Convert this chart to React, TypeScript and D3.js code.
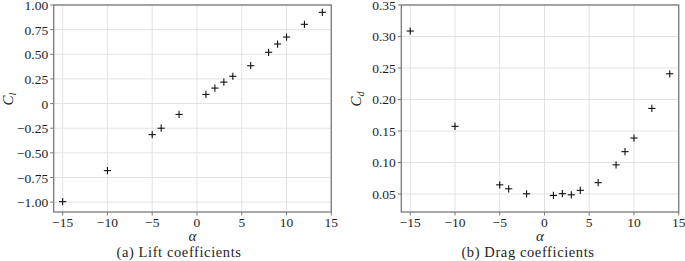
import React from "react";
import * as d3 from "d3";

const alpha = [-15, -10, -5, -4, -2, 1, 2, 3, 4, 6, 8, 9, 10, 12, 14];
const liftValues = [-0.995, -0.68, -0.315, -0.25, -0.11, 0.093, 0.157, 0.218, 0.277, 0.384, 0.52, 0.604, 0.675, 0.804, 0.926];
const dragValues = [0.3087, 0.1574, 0.0645, 0.0582, 0.0503, 0.0477, 0.0505, 0.0487, 0.0558, 0.068, 0.0962, 0.1172, 0.1388, 0.1858, 0.2408];
const xTicks = [-15, -10, -5, 0, 5, 10, 15];
const liftTicks = [-1.0, -0.75, -0.5, -0.25, 0, 0.25, 0.5, 0.75, 1.0];
const dragTicks = [0.05, 0.1, 0.15, 0.2, 0.25, 0.3, 0.35];
const liftTickLabels = ["\u22121.00", "\u22120.75", "\u22120.50", "\u22120.25", "0", "0.25", "0.50", "0.75", "1.00"];
const dragTickLabels = ["0.05", "0.10", "0.15", "0.20", "0.25", "0.30", "0.35"];

const FONT = "'Liberation Serif', 'Times New Roman', serif";
const TEXT = "#1e1e1e";
const FRAME = "#7a7a7a";
const GRID = "#e2e2e2";

type PanelProps = {
  left: number;
  right: number;
  top: number;
  bottom: number;
  values: number[];
  yDomain: [number, number];
  yTicks: number[];
  yTickLabels: string[];
  sub: string;
  caption: string;
  captionX: number;
  yLabelY: number;
  yLabelX: number;
};

function Panel(p: PanelProps) {
  const x = d3.scaleLinear().domain([-16, 15]).range([p.left, p.right]);
  const y = d3.scaleLinear().domain(p.yDomain).range([p.bottom, p.top]);
  const cx = (p.left + p.right) / 2;
  const m = 3.6;
  return (
    <g>
      {xTicks.map((t) => (
        <line key={"gx" + t} x1={x(t)} x2={x(t)} y1={p.top} y2={p.bottom} stroke={GRID} strokeWidth={1} />
      ))}
      {p.yTicks.map((t) => (
        <line key={"gy" + t} x1={p.left} x2={p.right} y1={y(t)} y2={y(t)} stroke={GRID} strokeWidth={1} />
      ))}
      {xTicks.map((t) => (
        <g key={"tx" + t}>
          <line x1={x(t)} x2={x(t)} y1={p.bottom} y2={p.bottom + 3.5} stroke={FRAME} strokeWidth={1} />
          <text x={x(t)} y={p.bottom + 15} textAnchor="middle" fontFamily={FONT} fontSize={13.5} fill={TEXT}>
            {t < 0 ? "\u2212" + Math.abs(t) : String(t)}
          </text>
        </g>
      ))}
      {p.yTicks.map((t, i) => (
        <g key={"ty" + t}>
          <line x1={p.left - 3.5} x2={p.left} y1={y(t)} y2={y(t)} stroke={FRAME} strokeWidth={1} />
          <text x={p.left - 5.5} y={y(t) + 5} textAnchor="end" fontFamily={FONT} fontSize={13.5} fill={TEXT}>
            {p.yTickLabels[i]}
          </text>
        </g>
      ))}
      <rect x={p.left} y={p.top} width={p.right - p.left} height={p.bottom - p.top} fill="none" stroke={FRAME} strokeWidth={1.3} />
      {alpha.map((a, i) => (
        <g key={"pt" + a}>
          <line x1={x(a) - m} x2={x(a) + m} y1={y(p.values[i])} y2={y(p.values[i])} stroke="#111" strokeWidth={1.1} />
          <line x1={x(a)} x2={x(a)} y1={y(p.values[i]) - m} y2={y(p.values[i]) + m} stroke="#111" strokeWidth={1.1} />
        </g>
      ))}
      <text x={cx} y={241} textAnchor="middle" fontFamily={FONT} fontSize={15} fontStyle="italic" fill={TEXT}>
        α
      </text>
      <text x={p.captionX} y={257} textAnchor="middle" fontFamily={FONT} fontSize={14.5} letterSpacing={0.6} fill={TEXT}>
        {p.caption}
      </text>
      <text
        transform={`translate(${p.yLabelX},${p.yLabelY}) rotate(-90)`}
        textAnchor="middle"
        fontFamily={FONT}
        fontSize={15}
        fontStyle="italic"
        fill={TEXT}
      >
        C<tspan fontSize={10} dy={3}>{p.sub}</tspan>
      </text>
    </g>
  );
}

export default function App() {
  return (
    <svg width={685} height={261} style={{ position: "absolute", left: 0, top: 0, background: "#fff" }}>
      <rect x={0} y={0} width={685} height={261} fill="#fff" />
      <Panel
        left={53.7}
        right={331.3}
        top={5}
        bottom={212}
        values={liftValues}
        yDomain={[-1.1, 1.0]}
        yTicks={liftTicks}
        yTickLabels={liftTickLabels}
        sub="l"
        caption="(a) Lift coefficients"
        captionX={179}
        yLabelX={13}
        yLabelY={99}
      />
      <Panel
        left={401.3}
        right={678.7}
        top={5}
        bottom={212}
        values={dragValues}
        yDomain={[0.0214, 0.35]}
        yTicks={dragTicks}
        yTickLabels={dragTickLabels}
        sub="d"
        caption="(b) Drag coefficients"
        captionX={528}
        yLabelX={361}
        yLabelY={99}
      />
    </svg>
  );
}
